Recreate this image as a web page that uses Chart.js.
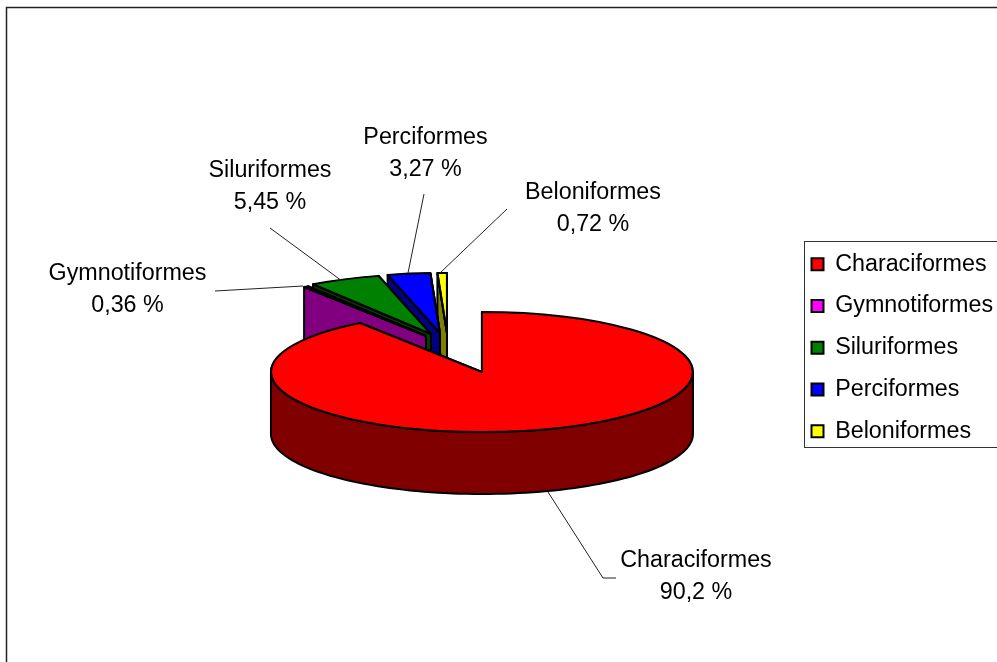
<!DOCTYPE html>
<html>
<head>
<meta charset="utf-8">
<title>Ordens de peixes</title>
<style>
  html, body { margin: 0; padding: 0; background: #fff; overflow: hidden; }
  canvas { display: block; }
</style>
<script src="https://cdn.jsdelivr.net/npm/chart.js@4/dist/chart.umd.min.js"></script>
</head>
<body>
<canvas id="grafico" width="997" height="662"></canvas>
<script>
const categorias = ['Characiformes', 'Gymnotiformes', 'Siluriformes', 'Perciformes', 'Beloniformes'];
const valores = [90.2, 0.36, 5.45, 3.27, 0.72];
const rotulos = ['90,2 %', '0,36 %', '5,45 %', '3,27 %', '0,72 %'];

const coresTopo = ['#ff0000', '#ff00ff', '#008000', '#0000ff', '#ffff00'];
const coresLado = ['#800000', '#800080', '#004000', '#000080', '#808000'];

// 3d look: squash of the pie, height of the wall, and how far each slice is pulled away
const achatar = 60 / 211;
const altura = 62;
const deslocX = [0, -56, -51, -42, -35];
const deslocY = [0, -36, -38, -39, -39];
const ordemPintura = [4, 3, 2, 1, 0];

const FONTE = '"Liberation Sans", Arial, sans-serif';
const posRotulos = [[696, 561], [127.5, 274], [270, 171], [425.5, 138], [593, 193]];
const linhasGuia = [
    [[616, 578], [603, 578], [548, 492]],
    [[215, 291], [303, 286]],
    [[270, 228], [342, 281]],
    [[424, 194], [408, 273]],
    [[507, 209], [440, 273]]
];

function pontoBorda(p, i, ang, r) {
    return [p.x + deslocX[i] + Math.cos(ang) * r, p.y + deslocY[i] + Math.sin(ang) * r * achatar];
}

function parede(ctx, pontos, cor) {
    ctx.beginPath();
    pontos.forEach((pt, n) => n ? ctx.lineTo(pt[0], pt[1]) : ctx.moveTo(pt[0], pt[1]));
    for (let n = pontos.length - 1; n >= 0; n--) ctx.lineTo(pontos[n][0], pontos[n][1] + altura);
    ctx.closePath();
    ctx.fillStyle = cor;
    ctx.fill();
    ctx.stroke();
}

function desenhaFatia(ctx, arco, i) {
    const p = arco.getProps(['x', 'y', 'startAngle', 'endAngle', 'outerRadius'], true);
    const centro = pontoBorda(p, i, 0, 0);
    ctx.lineWidth = 2;
    ctx.strokeStyle = '#000';
    ctx.lineJoin = 'round';

    // side faces first, the top covers whatever should be hidden
    parede(ctx, [centro, pontoBorda(p, i, p.endAngle, p.outerRadius)], coresLado[i]);
    parede(ctx, [centro, pontoBorda(p, i, p.startAngle, p.outerRadius)], coresLado[i]);
    const de = Math.max(p.startAngle, 0);
    const ate = Math.min(p.endAngle, Math.PI);
    if (ate > de) {
        const curva = [];
        for (let n = 0; n <= 90; n++) curva.push(pontoBorda(p, i, de + (ate - de) * n / 90, p.outerRadius));
        parede(ctx, curva, coresLado[i]);
    }

    // top face, drawn by the library under a squash
    ctx.save();
    ctx.translate(centro[0], centro[1]);
    ctx.scale(1, achatar);
    ctx.translate(-p.x, -p.y);
    arco.draw(ctx);
    ctx.restore();

    // outline again without the squash so it keeps its width
    ctx.save();
    ctx.translate(centro[0], centro[1]);
    ctx.scale(1, achatar);
    ctx.beginPath();
    ctx.moveTo(0, 0);
    ctx.arc(0, 0, p.outerRadius, p.startAngle, p.endAngle);
    ctx.closePath();
    ctx.restore();
    ctx.stroke();
}

const pizza3d = {
    id: 'pizza3d',
    beforeDraw(chart) {
        const ctx = chart.ctx;
        ctx.save();
        ctx.strokeStyle = '#222';
        ctx.lineWidth = 1.5;
        ctx.strokeRect(6.5, 7.5, 1200, 900);
        ctx.restore();
    },
    afterLayout(chart) {
        chart.legend.left = 793;
        chart.legend.top = 234;
    },
    beforeDatasetsDraw(chart) {
        const ctx = chart.ctx;
        const arcos = chart.getDatasetMeta(0).data;
        ctx.save();
        ordemPintura.forEach(i => desenhaFatia(ctx, arcos[i], i));
        ctx.restore();
        return false;
    },
    afterDraw(chart) {
        const ctx = chart.ctx;
        ctx.save();
        ctx.strokeStyle = '#333';
        ctx.lineWidth = 1;
        ctx.strokeRect(804.5, 241.5, 400, 206);

        ctx.lineWidth = 1;
        ctx.strokeStyle = '#222';
        linhasGuia.forEach(linha => {
            ctx.beginPath();
            linha.forEach((pt, n) => n ? ctx.lineTo(pt[0], pt[1]) : ctx.moveTo(pt[0], pt[1]));
            ctx.stroke();
        });

        ctx.fillStyle = '#000';
        ctx.font = '23.3px ' + FONTE;
        ctx.textAlign = 'center';
        ctx.textBaseline = 'middle';
        categorias.forEach((nome, i) => {
            ctx.fillText(nome, posRotulos[i][0], posRotulos[i][1]);
            ctx.fillText(rotulos[i], posRotulos[i][0], posRotulos[i][1] + 32);
        });
        ctx.restore();
    }
};

new Chart(document.getElementById('grafico'), {
    type: 'pie',
    data: {
        labels: categorias,
        datasets: [{
            data: valores,
            backgroundColor: coresTopo,
            borderColor: '#000',
            borderWidth: 2
        }]
    },
    options: {
        responsive: false,
        animation: false,
        radius: 211,
        layout: { padding: { left: 177, top: 82 } },
        plugins: {
            tooltip: { enabled: false },
            legend: {
                position: 'right',
                align: 'start',
                labels: {
                    color: '#000',
                    boxWidth: 12,
                    boxHeight: 12,
                    padding: 18.5,
                    font: { family: FONTE, size: 23.3 }
                }
            }
        }
    },
    plugins: [pizza3d]
});
</script>
</body>
</html>
